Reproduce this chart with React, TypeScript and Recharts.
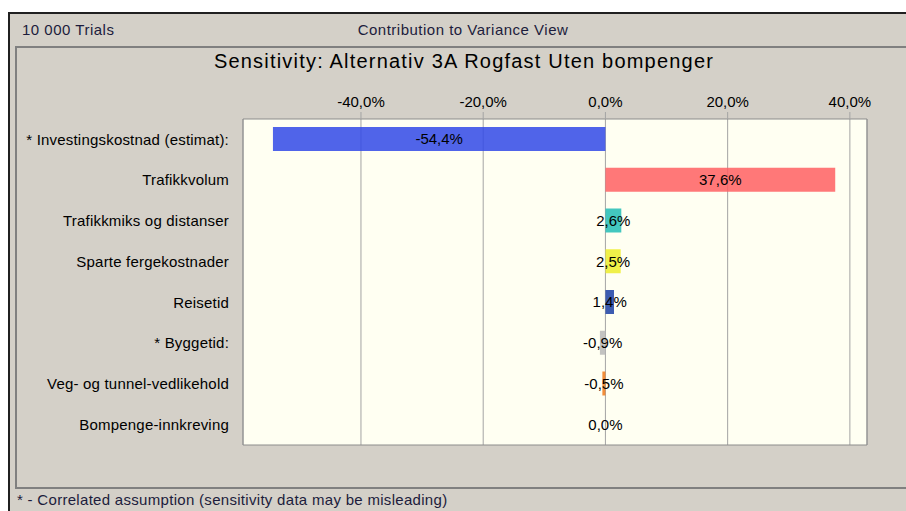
import { BarChart, Bar, XAxis, YAxis, CartesianGrid, Cell, LabelList, ReferenceArea } from "recharts";

// Sensitivity (contribution to variance), in percent
const factors = [
  "* Investingskostnad (estimat):",
  "Trafikkvolum",
  "Trafikkmiks og distanser",
  "Sparte fergekostnader",
  "Reisetid",
  "* Byggetid:",
  "Veg- og tunnel-vedlikehold",
  "Bompenge-innkreving",
];
const contributions = [-54.4, 37.6, 2.6, 2.5, 1.4, -0.9, -0.5, 0.0];
const barColors = ["#3149e7", "#ff6063", "#22bdb6", "#eded2c", "#1b3fa6", "#b8b8b8", "#f07a1a", "#888888"];
const xTicks = [-40, -20, 0, 20, 40];
const xDomain: [number, number] = [-59.3, 42.8];

const FONT = "'Liberation Sans', Arial, sans-serif";
const GRID = "#a4a4a4";

const pct = (v: number) => v.toFixed(1).replace(".", ",") + "%";

const chartData = factors.map((factor, i) => ({ factor, value: contributions[i] }));

export default function App() {
  return (
    <div style={{ position: "absolute", left: 0, top: 0, width: 906, height: 511, background: "#fff", overflow: "hidden", fontFamily: FONT }}>
      {/* window frame */}
      <div style={{ position: "absolute", left: 8, top: 12, width: 910, height: 510, background: "#d4d0c8", borderTop: "2px solid #202020", borderLeft: "2px solid #202020" }} />
      <div style={{ position: "absolute", left: 22, top: 22, fontSize: 15, lineHeight: "15px", letterSpacing: 0.5, color: "#1c1c3c" }}>10 000 Trials</div>
      <div style={{ position: "absolute", left: 263, width: 400, top: 22, textAlign: "center", fontSize: 15, lineHeight: "15px", letterSpacing: 0.5, color: "#1c1c3c" }}>
        Contribution to Variance View
      </div>
      {/* inner panel */}
      <div style={{ position: "absolute", left: 15, top: 46, width: 910, height: 439, borderTop: "2px solid #808080", borderLeft: "2px solid #808080", borderBottom: "2px solid #808080" }} />
      <div style={{ position: "absolute", left: 14, width: 900, top: 51, textAlign: "center", fontSize: 20, lineHeight: "20px", letterSpacing: 1.2, color: "#000" }}>
        Sensitivity: Alternativ 3A Rogfast Uten bompenger
      </div>
      <div style={{ position: "absolute", left: 17, top: 492, fontSize: 15, lineHeight: "15px", letterSpacing: 0.3, color: "#1c1c3c" }}>
        * - Correlated assumption (sensitivity data may be misleading)
      </div>

      <div style={{ position: "absolute", left: 0, top: 0 }}>
        <BarChart
          width={906}
          height={511}
          data={chartData}
          layout="vertical"
          margin={{ top: 89, right: 39, bottom: 66, left: 0 }}
        >
          <CartesianGrid horizontal={false} stroke={GRID} fill="#fffff2" fillOpacity={1} />
          <XAxis
            type="number"
            orientation="top"
            domain={xDomain}
            ticks={xTicks}
            allowDataOverflow
            height={30}
            tickSize={7}
            tickMargin={5}
            tickLine={{ stroke: GRID }}
            axisLine={false}
            tickFormatter={pct}
            tick={{ fill: "#000", fontSize: 15, fontFamily: FONT }}
          />
          <YAxis
            type="category"
            dataKey="factor"
            width={243}
            tickSize={6}
            tickMargin={8}
            tickLine={false}
            axisLine={false}
            interval={0}
            tick={{ fill: "#000", fontSize: 15, fontFamily: FONT, letterSpacing: 0.2 }}
          />
          <ReferenceArea x1={xDomain[0]} x2={xDomain[1]} fill="none" stroke="#8c8c8c" strokeWidth={1} />
          <Bar dataKey="value" barSize={24} minPointSize={0.01} fillOpacity={0.85} isAnimationActive={false}>
            {chartData.map((d, i) => (
              <Cell key={d.factor} fill={barColors[i]} />
            ))}
            <LabelList
              dataKey="value"
              position="center"
              formatter={(v: any) => pct(Number(v))}
              style={{ fill: "#000", fontSize: 15, fontFamily: FONT }}
            />
          </Bar>
        </BarChart>
      </div>
    </div>
  );
}
